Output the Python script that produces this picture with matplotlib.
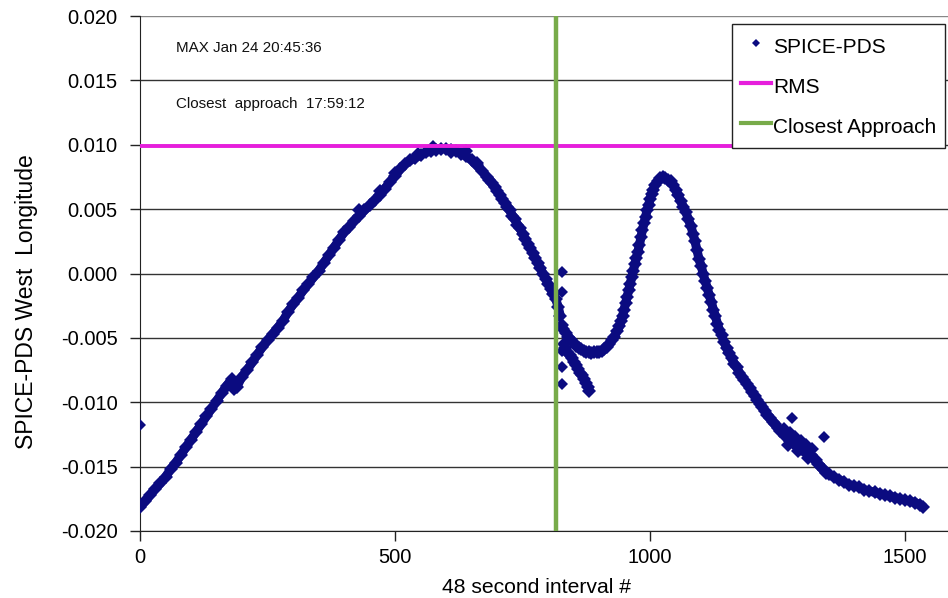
import matplotlib
matplotlib.use("Agg")
import matplotlib.pyplot as plt
from matplotlib.lines import Line2D

plt.rcParams['font.family'] = ['Liberation Sans', 'DejaVu Sans']
plt.rcParams['axes.unicode_minus'] = False

# ---- data ----
x_main = [0, 10, 20, 30, 40, 50, 60, 70, 80, 90,
          100, 110, 120, 130, 140, 150, 160, 170, 180, 185,
          190, 200, 210, 220, 230, 240, 250, 260, 270, 280,
          290, 300, 310, 320, 330, 340, 350, 360, 370, 380,
          390, 400, 410, 420, 430, 440, 450, 460, 470, 480,
          490, 500, 510, 520, 530, 540, 550, 560, 570, 580,
          590, 600, 610, 620, 630, 640, 650, 660, 670, 680,
          685, 690, 695, 700, 705, 710, 715, 720, 725, 730,
          735, 740, 745, 750, 755, 760, 765, 770, 775, 780,
          785, 790, 795, 800, 805, 810, 815, 820, 824]
y_main = [-0.0181, -0.0177, -0.0172, -0.0167, -0.0163, -0.0158, -0.0152, -0.0147, -0.0141, -0.0135,
          -0.0129, -0.0123, -0.0117, -0.0111, -0.0105, -0.0099, -0.0093, -0.0087, -0.0082, -0.0090,
          -0.0088, -0.0080, -0.0075, -0.0069, -0.0063, -0.0057, -0.0052, -0.0047, -0.0042, -0.0037,
          -0.0030, -0.0024, -0.0019, -0.0013, -0.0008, -0.0003, 0.0002, 0.0008, 0.0014, 0.0020,
          0.0026, 0.0032, 0.0036, 0.0041, 0.0045, 0.0049, 0.0053, 0.0057, 0.0061, 0.0066,
          0.0071, 0.0076, 0.0081, 0.0085, 0.0088, 0.0090, 0.0092, 0.0094, 0.0095, 0.0096,
          0.0097, 0.0097, 0.0096, 0.0095, 0.0093, 0.0091, 0.0088, 0.0084, 0.0080, 0.0075,
          0.0073, 0.0070, 0.0067, 0.0064, 0.0061, 0.0058, 0.0055, 0.0052, 0.0049, 0.0045,
          0.0042, 0.0038, 0.0035, 0.0031, 0.0027, 0.0023, 0.0020, 0.0016, 0.0012, 0.0008,
          0.0004, 0.0000, -0.0004, -0.0008, -0.0012, -0.0016, -0.0020, -0.0026, -0.0033]

x_after = [827, 830, 835, 840, 845, 850, 855, 860, 865, 870,
           875, 880, 885, 890, 895, 900, 905, 910, 915, 920,
           925, 930, 935, 940, 943, 946, 949, 952, 955, 958,
           961, 964, 967, 970, 973, 976, 979, 982, 985, 988,
           991, 994, 997, 1000, 1003, 1006, 1010, 1015, 1020, 1025,
           1030, 1035, 1040, 1045, 1050, 1055, 1060, 1065, 1070, 1075,
           1080, 1084, 1088, 1092, 1096, 1100, 1104, 1108, 1112, 1116,
           1120, 1124, 1128, 1132, 1136, 1140, 1145, 1150, 1155, 1160,
           1165, 1170, 1175, 1180, 1185, 1190, 1195, 1200, 1205, 1210,
           1215, 1220, 1225, 1230, 1235, 1240, 1245, 1250, 1255, 1260,
           1265, 1270, 1275, 1280, 1285, 1290, 1295, 1300, 1305, 1310,
           1315, 1320, 1325, 1330, 1335, 1340, 1345, 1350, 1360, 1370,
           1380, 1390, 1400, 1410, 1420, 1430, 1440, 1450, 1460, 1470,
           1480, 1490, 1500, 1510, 1520, 1530, 1535]
y_after = [-0.0040, -0.0043, -0.0046, -0.0049, -0.0052, -0.0054, -0.0056, -0.0058, -0.0059, -0.0060,
           -0.0061, -0.0061, -0.0062, -0.0061, -0.0061, -0.0061, -0.0060, -0.0059, -0.0057, -0.0055,
           -0.0052, -0.0049, -0.0045, -0.0041, -0.0037, -0.0033, -0.0028, -0.0023, -0.0018, -0.0013,
           -0.0008, -0.0003, 0.0002, 0.0007, 0.0012, 0.0017, 0.0022, 0.0028, 0.0034, 0.0039,
           0.0044, 0.0049, 0.0053, 0.0058, 0.0062, 0.0065, 0.0069, 0.0072, 0.0074, 0.0075,
           0.0074, 0.0073, 0.0072, 0.0069, 0.0065, 0.0061, 0.0056, 0.0052, 0.0048, 0.0042,
           0.0037, 0.0031, 0.0025, 0.0018, 0.0011, 0.0006, 0.0000, -0.0006, -0.0011, -0.0017,
           -0.0022, -0.0028, -0.0033, -0.0039, -0.0044, -0.0048, -0.0053, -0.0058, -0.0062, -0.0066,
           -0.0070, -0.0073, -0.0077, -0.0080, -0.0083, -0.0086, -0.0089, -0.0092, -0.0095, -0.0098,
           -0.0101, -0.0104, -0.0107, -0.0110, -0.0112, -0.0115, -0.0117, -0.0120, -0.0122, -0.0124,
           -0.0126, -0.0128, -0.0130, -0.0131, -0.0133, -0.0134, -0.0136, -0.0137, -0.0138, -0.0140,
           -0.0141, -0.0143, -0.0145, -0.0148, -0.0150, -0.0153, -0.0155, -0.0156, -0.0158, -0.0160,
           -0.0162, -0.0164, -0.0165, -0.0166, -0.0168, -0.0169, -0.0170, -0.0171, -0.0172, -0.0173,
           -0.0174, -0.0175, -0.0176, -0.0177, -0.0178, -0.0180, -0.0181]

x_lower = [831, 834, 838, 842, 846, 850, 854, 858, 862, 866, 870, 874, 878, 881]
y_lower = [-0.0055, -0.0058, -0.0061, -0.0063, -0.0066, -0.0069, -0.0071,
           -0.0074, -0.0077, -0.0079, -0.0082, -0.0085, -0.0088, -0.0091]

x_noise = [430, 470, 500, 545, 575, 610, 640, 660, 1262, 1275,
           1285, 1295, 1305, 1318, 1270, 1290, 1310]
y_noise = [0.0049, 0.0064, 0.0078, 0.0093, 0.0098, 0.0094, 0.0095, 0.0086, -0.0121, -0.0124,
           -0.0127, -0.0130, -0.0133, -0.0136, -0.0133, -0.0138, -0.0143]

x_outliers = [0, 828, 828, 828, 828, 828, 1278, 1341]
y_outliers = [-0.0118, 0.0001, -0.0014, -0.0060, -0.0073, -0.0086, -0.0112, -0.0127]

rms_x = [0, 1515]
rms_y = [0.0099, 0.0099]
closest_x = 816
y_limits = (-0.020, 0.020)
x_ticks = [0, 500, 1000, 1500]
y_ticks = [-0.020, -0.015, -0.010, -0.005, 0.000, 0.005, 0.010, 0.015, 0.020]

navy = '#0B0B80'
magenta = '#E61EDC'
green = '#78AB4A'

fig = plt.figure(figsize=(9.48, 5.98), dpi=100)
ax = fig.add_axes([140/948, 1-531/598, 1-140/948, (531-16)/598])

ax.set_xlim(0, 1584)
ax.set_ylim(*y_limits)
ax.set_yticks(y_ticks)
ax.set_xticks(x_ticks)
ax.set_yticklabels([f'{v:.3f}' for v in y_ticks])
ax.set_xticklabels([str(v) for v in x_ticks])

for v in y_ticks:
    ax.axhline(v, color='#333333' if v < 0.0199 else '#888888', lw=1.0, zorder=1)

ax.spines['top'].set_visible(False)
ax.spines['right'].set_visible(False)
ax.spines['left'].set_color('#222222')
ax.spines['bottom'].set_color('#222222')
ax.tick_params(direction='out', length=7, width=1, color='#222222', labelsize=14.5, pad=5)
ax.tick_params(axis='y', pad=9)

band = dict(color=navy, lw=6.5, solid_capstyle='round', solid_joinstyle='round', zorder=3)
mk = dict(ls='none', marker='D', ms=7, color=navy, mec=navy, mew=0, zorder=3)
for xs, ys in [(x_main, y_main), (x_after, y_after), (x_lower, y_lower)]:
    ax.plot(xs, ys, **band)
    ax.plot(xs, ys, **mk)
ax.plot(x_noise, y_noise, **mk)
ax.plot(x_outliers, y_outliers, **dict(mk, ms=6))

ax.plot(rms_x, rms_y, color=magenta, lw=2.8, zorder=4)
ax.axvline(closest_x, color=green, lw=3.2, zorder=4)

ax.set_xlabel('48 second interval #', fontsize=15.2)
ax.xaxis.set_label_coords((536-140)/808, (531-593)/515)
ax.xaxis.label.set_verticalalignment('baseline')

ax.set_ylabel('SPICE-PDS West  Longitude', fontsize=16.5)
ax.yaxis.label.set_rotation_mode('default')
ax.yaxis.label.set_verticalalignment('center')
ax.yaxis.label.set_horizontalalignment('center')
ax.yaxis.set_label_coords((27-140)/808, (531-302)/515)

fig.text(176/948, 1-48/598, 'MAX Jan 24 20:45:36', fontsize=10.9, va='center', ha='left', color='#111111')
fig.text(176/948, 1-104/598, 'Closest  approach  17:59:12', fontsize=10.9, va='center', ha='left', color='#111111')

handles = [Line2D([], [], ls='none', marker='D', ms=4, color=navy, mew=0),
           Line2D([], [], color=magenta, lw=3),
           Line2D([], [], color=green, lw=3)]
leg = ax.legend(handles, ['SPICE-PDS', 'RMS', 'Closest Approach'],
                loc='upper left', bbox_to_anchor=((732-140)/808, (531-24)/515),
                fontsize=15, frameon=True, fancybox=False, shadow=False,
                borderpad=0.42, labelspacing=0.63, handlelength=1.45, handleheight=1.6,
                handletextpad=0.1, borderaxespad=0, framealpha=1)
leg.get_frame().set_edgecolor('#222222')
leg.get_frame().set_linewidth(1.0)
leg.set_zorder(10)

fig.savefig('out.png', dpi=100)
